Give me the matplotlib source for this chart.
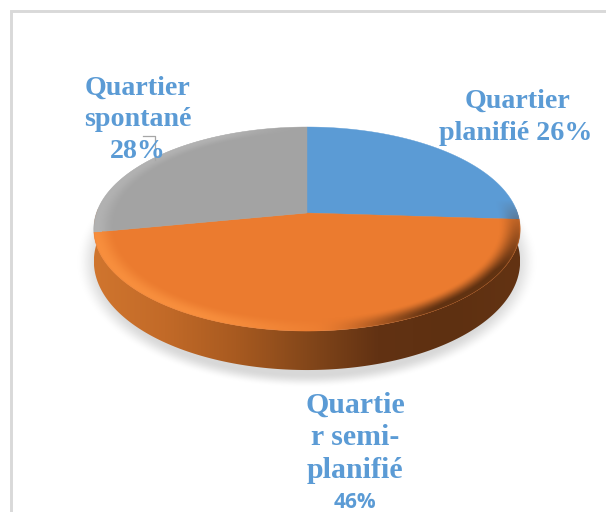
import numpy as np
import matplotlib
matplotlib.use("Agg")
import matplotlib.pyplot as plt
from matplotlib.patches import Polygon
from matplotlib.colors import LinearSegmentedColormap

# Share of each neighbourhood type, clockwise from twelve o'clock
categories = ["Quartier planifié", "Quartier semi-planifié", "Quartier spontané"]
shares = [26, 46, 28]
slice_colors = ["#5B9BD5", "#EB7B2F", "#A3A3A3"]
side_colors = ["#D0752E", "#C26A28", "#A85A20", "#84471A", "#623213", "#5E3011", "#633313"]

W, H = 606, 512
CX, CY = 307.0, 213.0   # apex of the pie on the canvas
AY, BX, K = 99.5, 210.5, 0.157   # tilt of the disc
LABEL_BLUE = "#5B9BD5"
SERIF = "Liberation Serif"


def project(u, v):
    """Map a point of the unit disc onto the tilted disc."""
    d = 1 + K * v
    return CX + BX * u / d, CY - AY * v / d


def rim(t0, t1, n=160):
    t = np.linspace(t0, t1, n)
    return project(np.sin(t), np.cos(t))


def smooth(e0, e1, a):
    s = np.clip((a - e0) / (e1 - e0), 0, 1)
    return s * s * (3 - 2 * s)


fig = plt.figure(figsize=(W / 100, H / 100), dpi=100)
ax = fig.add_axes([0, 0, 1, 1])
ax.set_xlim(0, W)
ax.set_ylim(H, 0)
ax.axis("off")

# Chart frame: only the left and top edges fall inside the canvas
ax.plot([10.5, 10.5, W + 5], [H + 5, 11, 11], color="#D9D9D9", lw=2.1, zorder=1,
        solid_joinstyle="miter")

X, Y = np.meshgrid(np.arange(W) + 0.5, np.arange(H) + 0.5)
extent = (0, W, H, 0)

# Soft ground shadow
dist = np.hypot((X - 307) / 224, (Y - 262) / 122)
shadow = np.zeros((H, W, 4))
shadow[..., :3] = 0.85
shadow[..., 3] = 1 - smooth(0.92, 1.03, dist)
ax.imshow(shadow, extent=extent, zorder=2, interpolation="bilinear", aspect="auto")

# Side wall with a left-to-right gradient, clipped to the lower rim;
# the wall reads thinner toward the sides of the disc
t_wall = np.linspace(np.pi / 2 - 0.05, 3 * np.pi / 2 + 0.05, 200)
xt, yt = project(np.sin(t_wall), np.cos(t_wall))
wall_depth = 31 + 8 * np.abs(np.cos(t_wall))
wall = Polygon(np.column_stack([np.r_[xt, xt[::-1]], np.r_[yt, (yt + wall_depth)[::-1]]]),
               closed=True, transform=ax.transData, fc="none", ec="none")
ax.add_patch(wall)
cmap = LinearSegmentedColormap.from_list("wall", side_colors)
grad = np.linspace(0, 1, 256)[None, :]
im = ax.imshow(grad, extent=(94, 520, 380, 200), cmap=cmap, zorder=3, aspect="auto")
im.set_clip_path(wall)

# Top face: one wedge per share
angles = np.r_[0, np.cumsum(shares)] / sum(shares) * 2 * np.pi
for a0, a1, color in zip(angles[:-1], angles[1:], slice_colors):
    rx, ry = rim(a0, a1)
    pts = np.column_stack([np.r_[CX, rx], np.r_[CY, ry]])
    ax.add_patch(Polygon(pts, closed=True, fc=color, ec=color, lw=0.3, zorder=4))

# Bevel along the rim: lit on the lower left, in shade on the right
v = -(Y - CY) / (AY + K * (Y - CY))
u = (X - CX) * (1 + K * v) / BX
r = np.hypot(u, v)
theta = np.mod(np.arctan2(u, v), 2 * np.pi)
in_semi = (theta >= angles[1]) & (theta < angles[2])
in_spont = theta >= angles[2]

inside = 1 - smooth(0.994, 1.006, r)
band = smooth(0.90, 0.99, r) * inside
front = np.clip(0.2 - v * 1.5, 0, 1)
lit = smooth(60, -120, X - CX) * np.clip(0.7 - v, 0, 1)
dark = smooth(0.02, 0.62, u) * front

bevel = np.zeros((H, W, 4))
light_rgb = np.array([0.98, 0.57, 0.25])
pale_rgb = np.array([0.74, 0.74, 0.74])
dark_rgb = np.array([0.37, 0.19, 0.07])
alpha_light = np.clip(band * lit * 0.9, 0, 1) * in_semi
alpha_pale = band * 0.6 * smooth(0, -100, X - CX) * in_spont
alpha_dark = np.clip(band * dark * 1.05, 0, 0.98)
total = alpha_light + alpha_pale + alpha_dark + 1e-6
for i in range(3):
    bevel[..., i] = (light_rgb[i] * alpha_light + pale_rgb[i] * alpha_pale
                     + dark_rgb[i] * alpha_dark) / total
bevel[..., 3] = np.clip(total, 0, 1)
ax.imshow(bevel, extent=extent, zorder=5, interpolation="bilinear", aspect="auto")

# Leader line of the upper-left label
ax.plot([143, 155, 155], [136, 136, 160], color="#A6A6A6", lw=0.9, zorder=6)

# Data labels, drawn line by line
pct = [f"{s}%" for s in shares]
label_font = dict(family=SERIF, weight="bold", size=20.2, color=LABEL_BLUE,
                  ha="center", va="baseline", zorder=7)
ax.text(138, 95, "Quartier", **label_font)
ax.text(138, 126, "spontané", **label_font)
ax.text(138, 158, pct[2], **label_font)
ax.text(517, 108, "Quartier", **label_font)
ax.text(516, 140, "planifié " + pct[0], **label_font)
label_font["size"] = 21.5
ax.text(355, 413, "Quartie", **label_font)
ax.text(355, 445, "r semi-", **label_font)
ax.text(355, 478, "planifié", **label_font)
ax.text(355, 508, pct[1], family="Open Sans", weight="bold", size=15,
        color=LABEL_BLUE, ha="center", va="baseline", zorder=7)

ax.set_xlim(0, W)
ax.set_ylim(H, 0)
fig.savefig("out.png", dpi=100, facecolor="white")
